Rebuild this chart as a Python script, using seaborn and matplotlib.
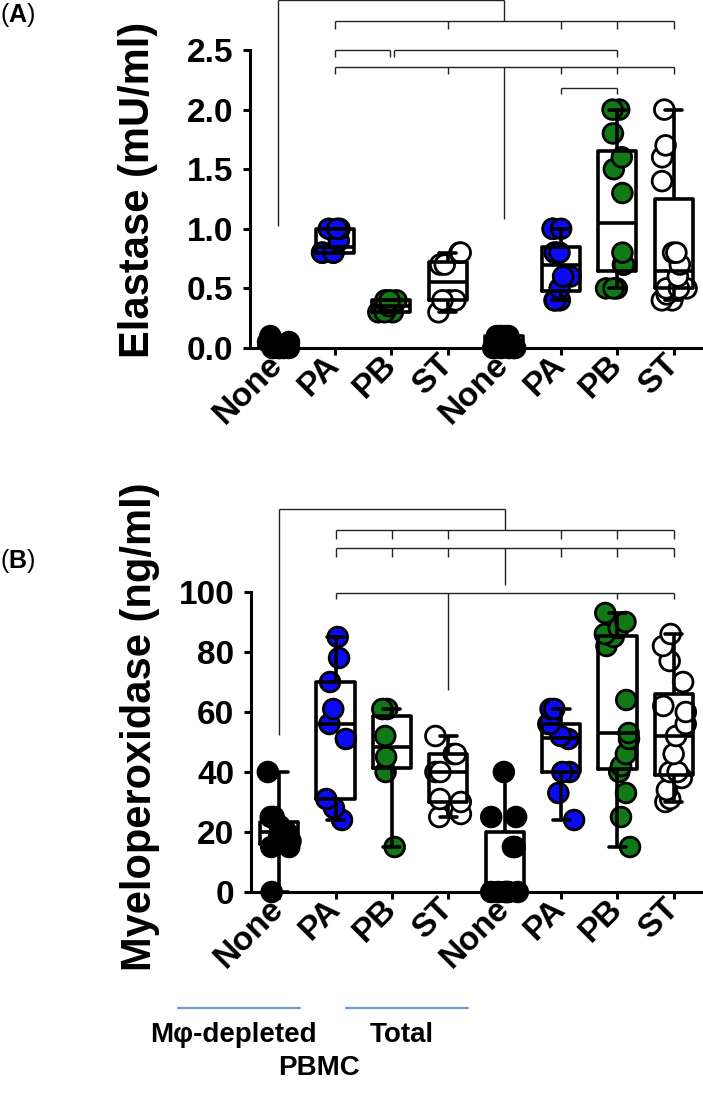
import numpy as np
import pandas as pd
import matplotlib
matplotlib.use("Agg")
import matplotlib.pyplot as plt
from matplotlib.lines import Line2D
import matplotlib.transforms as mtransforms
import seaborn as sns

# ---------------- data ----------------
groups = ["None_M", "PA_M", "PB_M", "ST_M", "None_T", "PA_T", "PB_T", "ST_T"]
tick_labels = ["None", "PA", "PB", "ST", "None", "PA", "PB", "ST"]
group_colors = ["#000000", "#0a0af5", "#117a16", "#ffffff",
                "#000000", "#0a0af5", "#117a16", "#ffffff"]

# Elastase (mU/ml)
ela_none_m = [0, 0, 0, 0, 0, 0.05, 0.05, 0.1]
ela_pa_m = [0.8, 0.8, 0.8, 0.8, 0.9, 1.0, 1.0, 1.0]
ela_pb_m = [0.3, 0.3, 0.3, 0.35, 0.4, 0.4, 0.4]
ela_st_m = [0.3, 0.4, 0.4, 0.4, 0.7, 0.7, 0.8, 0.8]
ela_none_t = [0, 0, 0, 0, 0, 0.1, 0.1, 0.1, 0.1, 0.1]
ela_pa_t = [0.4, 0.4, 0.4, 0.5, 0.6, 0.6, 0.8, 0.8, 0.8, 1.0, 1.0, 1.0]
ela_pb_t = [0.5, 0.5, 0.5, 0.7, 0.7, 0.8, 1.3, 1.5, 1.6, 1.8, 2.0, 2.0]
ela_st_t = [0.4, 0.4, 0.45, 0.5, 0.5, 0.5, 0.6, 0.7, 0.8, 0.8, 1.4, 1.6, 1.7, 2.0]

# Myeloperoxidase (ng/ml)
mpo_none_m = [0, 15, 15, 17, 18, 20, 20, 22, 25, 25, 40]
mpo_pa_m = [24, 28, 31, 51, 56, 61, 70, 78, 85]
mpo_pb_m = [15, 40, 45, 52, 61, 61]
mpo_st_m = [25, 26, 30, 31, 40, 40, 46, 46, 52]
mpo_none_t = [0, 0, 0, 0, 0, 0, 15, 15, 25, 25, 40]
mpo_pa_t = [24, 33, 40, 40, 51, 52, 56, 56, 61, 61]
mpo_pb_t = [15, 25, 33, 40, 42, 46, 51, 53, 64, 82, 85, 86, 88, 90, 93]
mpo_st_t = [30, 31, 34, 38, 40, 40, 46, 52, 56, 60, 62, 70, 77, 82, 86]

elastase = [ela_none_m, ela_pa_m, ela_pb_m, ela_st_m,
            ela_none_t, ela_pa_t, ela_pb_t, ela_st_t]
mpo = [mpo_none_m, mpo_pa_m, mpo_pb_m, mpo_st_m,
       mpo_none_t, mpo_pa_t, mpo_pb_t, mpo_st_t]


def to_long(values):
    rows = []
    for g, vals in zip(groups, values):
        for v in vals:
            rows.append((g, v))
    return pd.DataFrame(rows, columns=["group", "value"])


df_a = to_long(elastase)
df_b = to_long(mpo)

# ---------------- style ----------------
sns.set_style("ticks")
plt.rcParams["font.family"] = ["Liberation Sans", "DejaVu Sans"]
plt.rcParams["mathtext.fontset"] = "custom"
plt.rcParams["mathtext.rm"] = "Liberation Sans"
plt.rcParams["mathtext.bf"] = "Liberation Sans:bold"
for k in ("text.color", "axes.labelcolor", "xtick.color", "ytick.color",
          "axes.edgecolor"):
    plt.rcParams[k] = "black"

W, H = 703, 1103
fig = plt.figure(figsize=(W / 100, H / 100), dpi=100)


def fx(px):
    return px / W


def fy(py):
    return 1 - py / H


ax_a = fig.add_axes([fx(250), fy(348), fx(702) - fx(250), fy(50) - fy(348)])
ax_b = fig.add_axes([fx(251), fy(892), fx(702) - fx(251), fy(592) - fy(892)])

palette = dict(zip(groups, group_colors))


def draw_panel(ax, df, ylim, yticks, yticklabels, seed):
    np.random.seed(seed)
    sns.stripplot(data=df, x="group", y="value", hue="group", order=groups,
                  palette=palette, jitter=0.24, size=14.2, linewidth=2.0,
                  edgecolor="black", legend=False, ax=ax, clip_on=False,
                  zorder=1)
    sns.boxplot(data=df, x="group", y="value", order=groups, fill=False,
                color="black", linewidth=2.6, width=0.68, whis=(0, 100),
                showfliers=False, capwidths=0.3, ax=ax)
    for coll in ax.collections:
        coll.set_clip_on(False)
    for ln in ax.lines:
        ln.set_clip_on(False)
    ax.set_xlim(-0.5, 7.5)
    ax.set_ylim(*ylim)
    ax.set_yticks(yticks)
    ax.set_yticklabels(yticklabels, fontsize=24, fontweight="bold")
    ax.set_xticks(range(len(groups)))
    ax.set_xticklabels(tick_labels, rotation=45, ha="right", va="center",
                       rotation_mode="anchor", fontsize=24, fontweight="bold")
    offset = mtransforms.ScaledTranslation(12 / 100, -13 / 100, fig.dpi_scale_trans)
    for lab in ax.get_xticklabels():
        lab.set_transform(lab.get_transform() + offset)
    ax.set_xlabel("")
    ax.set_ylabel("")
    sns.despine(ax=ax)
    for s in ("left", "bottom"):
        ax.spines[s].set_linewidth(2.2)
    ax.tick_params(axis="both", width=2.2, length=5, colors="black")
    ax.tick_params(axis="y", pad=7)


draw_panel(ax_a, df_a, (0, 2.5), [0, 0.5, 1.0, 1.5, 2.0, 2.5],
           ["0.0", "0.5", "1.0", "1.5", "2.0", "2.5"], 3)
draw_panel(ax_b, df_b, (0, 100), [0, 20, 40, 60, 80, 100],
           ["0", "20", "40", "60", "80", "100"], 5)


# ---------------- significance brackets ----------------
def hline(ax, x0, x1, y):
    ax.plot([x0, x1], [y, y], color="#222222", lw=1.0, clip_on=False,
            solid_capstyle="butt")


def vline(ax, x, y0, y1):
    ax.plot([x, x], [y0, y1], color="#222222", lw=1.0, clip_on=False,
            solid_capstyle="butt")


def bracket(ax, y, x0, x1, ticks, drop):
    hline(ax, x0, x1, y)
    for t in ticks:
        vline(ax, t, y, y - drop)


# panel A
hline(ax_a, 0, 4, 2.92)
vline(ax_a, 0, 2.92, 1.02)
vline(ax_a, 4, 2.92, 2.74)
bracket(ax_a, 2.74, 1, 7, [1, 3, 5, 6, 7], 0.06)
bracket(ax_a, 2.50, 1, 1.97, [1, 1.97], 0.06)
bracket(ax_a, 2.50, 2.05, 6, [2.05, 6], 0.06)
bracket(ax_a, 2.36, 1, 7, [1, 3, 5, 6, 7], 0.06)
vline(ax_a, 4, 2.36, 1.08)
bracket(ax_a, 2.18, 5, 6, [5, 6], 0.05)

# panel B
hline(ax_b, 0, 4, 127.7)
vline(ax_b, 0, 127.7, 52.3)
vline(ax_b, 4, 127.7, 120.7)
bracket(ax_b, 120.7, 1, 7, [1, 2, 3, 5, 6, 7], 3)
bracket(ax_b, 114.7, 1, 7, [1, 2, 3, 5, 6, 7], 3)
vline(ax_b, 4, 114.7, 102.3)
bracket(ax_b, 99.7, 1, 7, [1, 6, 7], 2)
vline(ax_b, 3, 99.7, 67.3)

# ---------------- labels ----------------
fig.text(fx(138), fy(190), "Elastase (mU/ml)", rotation=90, ha="center",
         va="center", fontsize=30, fontweight="bold")
fig.text(fx(140), fy(727), "Myeloperoxidase (ng/ml)", rotation=90,
         ha="center", va="center", fontsize=30, fontweight="bold")
fig.text(fx(0), fy(15), r"($\mathbf{A}$)", ha="left", va="center", fontsize=18)
fig.text(fx(0), fy(561), r"($\mathbf{B}$)", ha="left", va="center", fontsize=18)

for x0, x1 in ((178, 300), (346, 468)):
    fig.add_artist(Line2D([fx(x0), fx(x1)], [fy(1008), fy(1008)],
                          transform=fig.transFigure, color="#6d9fd3", lw=1.6))

fig.text(fx(233), fy(1035), "M\u03c6-depleted", ha="center", va="center",
         fontsize=20, fontweight="bold")
fig.text(fx(402), fy(1035), "Total", ha="center", va="center",
         fontsize=20, fontweight="bold")
fig.text(fx(319), fy(1068), "PBMC", ha="center", va="center",
         fontsize=20, fontweight="bold")

fig.savefig("out.png", dpi=100)
